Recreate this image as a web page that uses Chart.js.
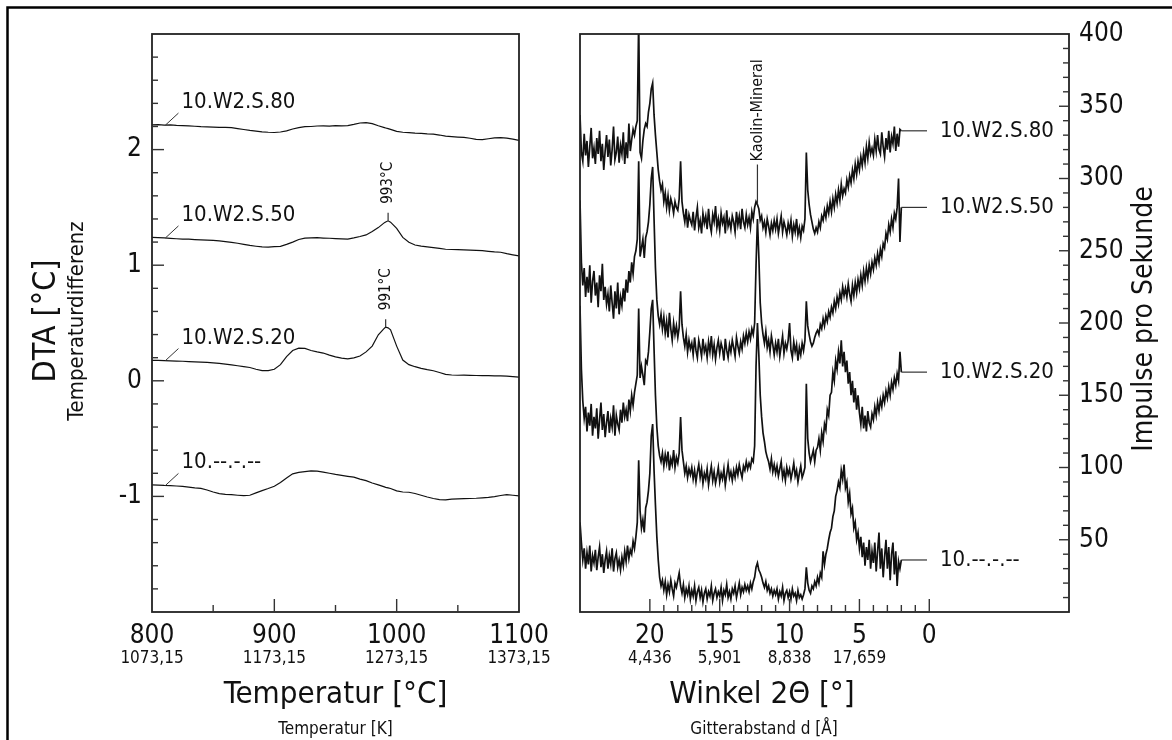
<!DOCTYPE html>
<html lang="de">
<head>
<meta charset="utf-8">
<title>DTA und Röntgendiffraktogramme</title>
<script src="https://cdn.jsdelivr.net/npm/chart.js@4.4.1/dist/chart.umd.min.js"></script>
<style>
  html, body { margin: 0; padding: 0; background: #fff; }
  #wrap { position: relative; width: 1172px; height: 740px; }
  #wrap canvas { position: absolute; left: 0; top: 0; }
</style>
</head>
<body>
<div id="wrap">
  <canvas id="dta" width="1172" height="740"></canvas>
  <canvas id="xrd" width="1172" height="740"></canvas>
</div>
<script>
// ---- DTA: temperature in °C, signal in °C (curves shifted apart) ----
const dtaTemps = [800,805,810,815,820,825,830,835,840,845,850,855,860,865,870,875,880,885,890,895,
  900,905,910,915,920,925,930,935,940,945,950,955,960,965,970,975,980,985,990,991,993,995,
  1000,1005,1010,1015,1020,1025,1030,1035,1040,1045,1050,1055,1060,1065,1070,1075,1080,1085,1090,1095,1100];

const dtaS80 = [2.214,2.216,2.212,2.214,2.210,2.208,2.205,2.202,2.198,2.196,
  2.195,2.193,2.192,2.190,2.182,2.174,2.166,2.160,2.154,2.150,
  2.148,2.152,2.162,2.178,2.190,2.198,2.200,2.204,2.206,2.203,
  2.207,2.205,2.208,2.218,2.230,2.234,2.224,2.206,
  2.190,2.187,2.181,2.175,
  2.158,2.150,2.146,2.142,2.140,2.136,2.134,2.126,2.116,2.112,
  2.108,2.105,2.098,2.088,2.086,2.094,2.102,2.104,2.100,2.090,
  2.080];

const dtaS50 = [1.240,1.238,1.236,1.232,1.229,1.226,1.225,1.222,1.219,1.217,
  1.214,1.210,1.204,1.197,1.190,1.180,1.171,1.164,1.158,1.157,
  1.160,1.163,1.180,1.200,1.222,1.234,1.236,1.238,1.235,1.233,
  1.230,1.228,1.226,1.236,1.248,1.262,1.292,1.325,
  1.368,1.374,1.384,1.372,
  1.318,1.240,1.198,1.175,1.165,1.158,1.152,1.146,1.138,1.136,
  1.134,1.132,1.130,1.128,1.126,1.120,1.115,1.112,1.100,1.090,
  1.081];

const dtaS20 = [0.176,0.177,0.175,0.172,0.170,0.169,0.166,0.164,0.162,0.159,
  0.155,0.151,0.145,0.138,0.130,0.122,0.115,0.100,0.088,0.088,
  0.100,0.140,0.210,0.262,0.283,0.280,0.262,0.250,0.240,0.222,
  0.207,0.196,0.190,0.198,0.214,0.250,0.300,0.398,
  0.455,0.464,0.458,0.441,
  0.300,0.180,0.140,0.122,0.108,0.096,0.087,0.072,0.056,0.050,
  0.048,0.049,0.047,0.046,0.045,0.044,0.043,0.042,0.040,0.036,
  0.032];

const dtaS00 = [-0.900,-0.902,-0.905,-0.906,-0.910,-0.914,-0.920,-0.926,-0.930,-0.945,
  -0.962,-0.976,-0.982,-0.985,-0.990,-0.994,-0.990,-0.970,-0.950,-0.932,
  -0.912,-0.880,-0.840,-0.805,-0.792,-0.786,-0.780,-0.782,-0.790,-0.800,
  -0.810,-0.818,-0.826,-0.834,-0.850,-0.864,-0.884,-0.900,
  -0.918,-0.922,-0.926,-0.932,
  -0.952,-0.962,-0.964,-0.975,-0.990,-1.005,-1.018,-1.028,-1.030,-1.024,
  -1.022,-1.020,-1.018,-1.016,-1.012,-1.008,-1.002,-0.992,-0.985,-0.990,
  -0.995];

const sampleNames = ['10.W2.S.80', '10.W2.S.50', '10.W2.S.20', '10.--.-.--'];
const dtaTickC = [800, 900, 1000, 1100];
const dtaTickK = ['1073,15', '1173,15', '1273,15', '1373,15'];
const dtaYLabels = [-1, 0, 1, 2];
// peak markers: [series index, temperature]
const dtaPeaks = [[1, 993], [2, 991]];

// ---- XRD: 2-theta from 25° down to 2° in 0.1° steps, counts per second ----
const xrdStart = 25, xrdStep = 0.1;

const xrdS80 = [
  344,318,312,331,316,326,308,322,335,314,
  321,310,328,317,333,312,324,306,319,330,
  315,327,309,320,336,313,318,329,311,323,
  317,332,310,325,314,338,319,327,334,330,
  336,340,410,318,314,326,334,338,336,346,
  352,362,366,344,330,318,306,298,292,296,
  284,290,280,288,278,286,282,276,284,280,
  278,286,312,284,276,270,279,266,275,271,
  268,277,264,273,280,266,271,262,276,269,
  274,265,279,268,263,275,270,281,266,272,
  264,276,269,273,262,278,267,271,265,274,
  270,263,277,268,274,265,279,270,266,275,
  268,273,266,277,272,280,284,282,279,271,
  274,266,270,263,272,267,261,269,264,271,
  265,272,262,268,274,263,270,266,261,269,
  264,271,260,268,263,272,261,266,259,267,
  264,272,318,292,282,275,270,265,262,266,
  263,270,266,274,271,278,273,281,276,284,
  277,286,280,289,283,292,285,296,288,293,
  290,299,294,302,297,306,300,310,303,312,
  306,315,309,318,311,322,314,325,317,321,
  316,327,319,330,320,317,332,322,315,328,
  320,333,318,329,324,336,319,331,322,334,
  333];

const xrdS50 = [
  285,242,226,238,218,232,221,240,214,229,
  236,219,228,211,233,222,241,216,225,213,
  220,208,226,214,203,222,210,228,206,218,
  212,224,215,230,221,236,228,242,234,246,
  250,258,312,246,252,258,245,259,263,270,
  282,300,308,272,238,216,205,199,206,196,
  204,193,201,190,207,196,188,200,192,198,
  190,197,222,199,190,184,192,180,188,182,
  186,178,190,181,176,188,183,177,189,180,
  184,176,187,180,191,178,185,175,183,188,
  179,186,182,174,189,181,176,185,180,188,
  183,177,190,184,179,187,182,191,186,193,
  187,194,189,196,192,200,240,272,246,214,
  200,192,186,194,183,188,180,191,185,178,
  186,180,189,177,184,191,179,186,182,188,
  200,181,176,187,180,185,174,183,178,186,
  181,188,215,198,192,187,184,186,190,193,
  195,192,199,196,203,198,205,201,208,204,
  211,207,215,210,218,213,221,216,225,219,
  224,218,227,220,215,226,219,228,221,230,
  224,233,226,236,229,238,231,240,234,242,
  237,245,240,248,242,251,246,255,252,262,
  258,268,263,272,266,276,272,280,300,256,
  280];

const xrdS20 = [
  212,168,146,134,142,125,138,129,144,122,
  135,127,141,120,133,145,126,137,121,131,
  139,124,134,128,143,122,136,130,126,140,
  131,145,135,140,132,147,139,150,143,152,
  158,164,210,162,170,164,157,174,172,180,
  194,210,216,182,150,128,115,108,104,110,
  101,109,103,111,98,106,102,112,100,107,
  103,110,135,112,104,96,101,93,99,95,
  100,92,98,90,97,102,93,99,89,96,
  92,99,88,95,101,91,97,89,94,100,
  90,96,92,99,88,95,102,93,97,91,
  98,93,100,95,102,97,93,101,98,104,
  99,103,100,106,104,115,170,200,178,150,
  135,124,118,111,107,104,99,106,97,102,
  96,101,94,99,104,93,98,91,100,95,
  99,92,97,103,94,98,90,96,101,93,
  96,100,158,120,110,104,108,112,104,112,
  114,120,112,124,118,130,126,140,136,150,
  152,166,160,174,168,180,172,188,170,180,
  166,174,158,166,150,160,145,155,140,150,
  138,130,142,127,136,125,139,131,128,137,
  133,142,136,145,139,147,142,150,145,153,
  148,156,150,159,154,162,157,165,160,180,
  166];

const xrdS00 = [
  62,48,36,44,30,41,33,46,28,39,
  34,43,29,38,45,31,40,27,36,42,
  30,39,33,44,28,37,41,31,36,29,
  38,32,42,35,46,37,43,40,49,44,
  52,62,105,70,58,64,55,72,76,84,
  96,122,130,98,74,52,36,24,18,22,
  15,21,12,19,14,22,16,11,20,17,
  22,27,18,13,19,10,16,12,18,9,
  15,11,18,8,14,17,10,15,7,13,
  16,9,14,11,18,8,13,16,10,14,
  11,17,8,15,12,19,10,14,9,16,
  13,18,10,15,20,12,17,14,19,15,
  18,14,20,16,21,24,31,34,29,27,
  24,20,17,21,15,18,13,16,11,15,
  12,16,9,14,11,17,8,13,15,10,
  14,9,16,11,13,8,15,10,12,9,
  12,16,31,20,15,13,18,16,21,18,
  24,20,27,24,42,33,40,44,50,55,
  58,66,70,80,84,90,86,98,92,102,
  86,90,76,82,68,72,58,62,50,55,
  44,52,38,48,32,45,36,50,30,42,
  34,48,28,42,55,30,44,24,38,50,
  30,45,22,40,48,26,42,18,35,30,
  36];

const xrdTicks = [20, 15, 10, 5, 0];
const xrdDSpacing = ['4,436', '5,901', '8,838', '17,659'];
const xrdYLabels = [50, 100, 150, 200, 250, 300, 350, 400];
const kaolinAngle = 12.3;

const FONT = "'DejaVu Sans Condensed', 'DejaVu Sans', sans-serif";
const INK = '#111';

const xrdAngles = [];
for (let i = 0; i < xrdS80.length; i++) xrdAngles.push(+(xrdStart - i * xrdStep).toFixed(1));

function text(ctx, str, x, y, size, align, base) {
  ctx.font = size + 'px ' + FONT;
  ctx.textAlign = align || 'center';
  ctx.textBaseline = base || 'alphabetic';
  ctx.fillText(str, x, y);
}

function vtext(ctx, str, x, y, size, align, base) {
  ctx.save();
  ctx.translate(x, y);
  ctx.rotate(-Math.PI / 2);
  text(ctx, str, 0, 0, size, align, base);
  ctx.restore();
}

function line(ctx, x1, y1, x2, y2) {
  ctx.beginPath();
  ctx.moveTo(x1, y1);
  ctx.lineTo(x2, y2);
  ctx.stroke();
}

const dtaDecor = {
  id: 'dtaDecor',
  afterDraw(chart) {
    const { ctx, chartArea: a, scales: { x, y } } = chart;
    ctx.save();
    ctx.fillStyle = INK;

    // page frame (only top and left edge fall inside the page)
    ctx.strokeStyle = '#000';
    ctx.lineWidth = 2.5;
    ctx.beginPath();
    ctx.moveTo(7.5, 760);
    ctx.lineTo(7.5, 7.5);
    ctx.lineTo(1200, 7.5);
    ctx.stroke();

    ctx.strokeStyle = '#222';
    ctx.lineWidth = 1.8;
    ctx.strokeRect(a.left, a.top, a.right - a.left, a.bottom - a.top);

    // inward ticks
    ctx.lineWidth = 1.4;
    ctx.strokeStyle = '#333';
    for (let k = -9; k <= 14; k++) {
      const py = y.getPixelForValue(k / 5);
      line(ctx, a.left, py, a.left + (k % 5 === 0 ? 12 : 6), py);
    }
    for (let t = 850; t <= 1050; t += 50) {
      const px = x.getPixelForValue(t);
      line(ctx, px, a.bottom, px, a.bottom - (t % 100 === 0 ? 13 : 7));
    }

    // tick labels
    dtaYLabels.forEach(v => text(ctx, String(v), a.left - 10, y.getPixelForValue(v), 26, 'right', 'middle'));
    dtaTickC.forEach((t, i) => {
      const px = x.getPixelForValue(t);
      text(ctx, String(t), px, 643, 26);
      text(ctx, dtaTickK[i], px, 663, 17);
    });

    // axis titles
    const cx = (a.left + a.right) / 2;
    text(ctx, 'Temperatur [°C]', cx, 703, 31);
    text(ctx, 'Temperatur [K]', cx, 734, 17);
    vtext(ctx, 'DTA [°C]', 55, 321, 32);
    vtext(ctx, 'Temperaturdifferenz', 83, 321, 22);

    // sample names with leader lines
    const series = [dtaS80, dtaS50, dtaS20, dtaS00];
    ctx.lineWidth = 1;
    series.forEach((vals, i) => {
      const px = x.getPixelForValue(811);
      const py = y.getPixelForValue(vals[2]);
      line(ctx, px, py, px + 13, py - 12);
      text(ctx, sampleNames[i], px + 16, py - 17, 22, 'left');
    });

    // peak temperatures
    dtaPeaks.forEach(([s, t]) => {
      const vals = series[s];
      const px = x.getPixelForValue(t);
      const py = y.getPixelForValue(vals[dtaTemps.indexOf(t)]);
      ctx.lineWidth = 1.2;
      line(ctx, px, py, px, py - 8);
      vtext(ctx, t + '°C', px, py - 17, 15, 'left', 'middle');
    });
    ctx.restore();
  }
};

const xrdDecor = {
  id: 'xrdDecor',
  afterDraw(chart) {
    const { ctx, chartArea: a, scales: { x, y } } = chart;
    ctx.save();
    ctx.fillStyle = INK;
    ctx.strokeStyle = '#222';
    ctx.lineWidth = 1.8;
    ctx.strokeRect(a.left, a.top, a.right - a.left, a.bottom - a.top);

    ctx.lineWidth = 1.4;
    ctx.strokeStyle = '#333';
    for (let v = 10; v < 400; v += 10) {
      const py = y.getPixelForValue(v);
      line(ctx, a.right, py, a.right - (v % 50 === 0 ? 10 : 6), py);
    }
    for (let t = 0; t <= 20; t++) {
      const px = x.getPixelForValue(t);
      line(ctx, px, a.bottom, px, a.bottom - (t % 5 === 0 ? 13 : 7));
    }

    xrdYLabels.forEach(v => text(ctx, String(v), a.right + 10, y.getPixelForValue(v), 26, 'left', 'middle'));
    xrdTicks.forEach((t, i) => {
      const px = x.getPixelForValue(t);
      text(ctx, String(t), px, 643, 26);
      if (xrdDSpacing[i]) text(ctx, xrdDSpacing[i], px, 663, 17);
    });

    text(ctx, 'Winkel 2Θ [°]', 762, 703, 31);
    text(ctx, 'Gitterabstand d [Å]', 764, 734, 17);
    vtext(ctx, 'Impulse pro Sekunde', 1152, 319, 28);

    // sample names at the end of each scan
    ctx.lineWidth = 1.2;
    [xrdS80, xrdS50, xrdS20, xrdS00].forEach((vals, i) => {
      const px = x.getPixelForValue(xrdAngles[vals.length - 1]);
      const py = y.getPixelForValue(vals[vals.length - 1]);
      line(ctx, px, py, 927, py);
      text(ctx, sampleNames[i], 940, py, 22, 'left', 'middle');
    });

    // Kaolin reflection marker on the top scan
    const kx = x.getPixelForValue(kaolinAngle);
    const ky = y.getPixelForValue(xrdS80[xrdAngles.indexOf(kaolinAngle)]);
    ctx.lineWidth = 1.2;
    line(ctx, kx, ky, kx, ky - 40);
    vtext(ctx, 'Kaolin-Mineral', kx, ky - 43, 16, 'left', 'middle');
    ctx.restore();
  }
};

const lineStyle = { borderColor: INK, pointRadius: 0, fill: false, tension: 0 };

new Chart(document.getElementById('dta'), {
  type: 'line',
  data: {
    datasets: [dtaS80, dtaS50, dtaS20, dtaS00].map((vals, i) => ({
      label: sampleNames[i],
      data: vals.map((v, j) => ({ x: dtaTemps[j], y: v })),
      borderWidth: 1.2,
      ...lineStyle
    }))
  },
  options: {
    responsive: false,
    animation: false,
    layout: { padding: { left: 152, top: 34, right: 1172 - 519, bottom: 740 - 612 } },
    scales: {
      x: { type: 'linear', min: 800, max: 1100, display: false },
      y: { type: 'linear', min: -2, max: 3, display: false }
    },
    plugins: { legend: { display: false }, tooltip: { enabled: false } }
  },
  plugins: [dtaDecor]
});

new Chart(document.getElementById('xrd'), {
  type: 'line',
  data: {
    datasets: [xrdS80, xrdS50, xrdS20, xrdS00].map((vals, i) => ({
      label: sampleNames[i],
      data: vals.map((v, j) => ({ x: xrdAngles[j], y: v })),
      borderWidth: 1.7,
      borderJoinStyle: 'miter',
      ...lineStyle
    }))
  },
  options: {
    responsive: false,
    animation: false,
    layout: { padding: { left: 580, top: 34, right: 1172 - 1069, bottom: 740 - 612 } },
    scales: {
      x: { type: 'linear', min: -10, max: 25, reverse: true, display: false },
      y: { type: 'linear', min: 0, max: 400, display: false }
    },
    plugins: { legend: { display: false }, tooltip: { enabled: false } }
  },
  plugins: [xrdDecor]
});
</script>
</body>
</html>
